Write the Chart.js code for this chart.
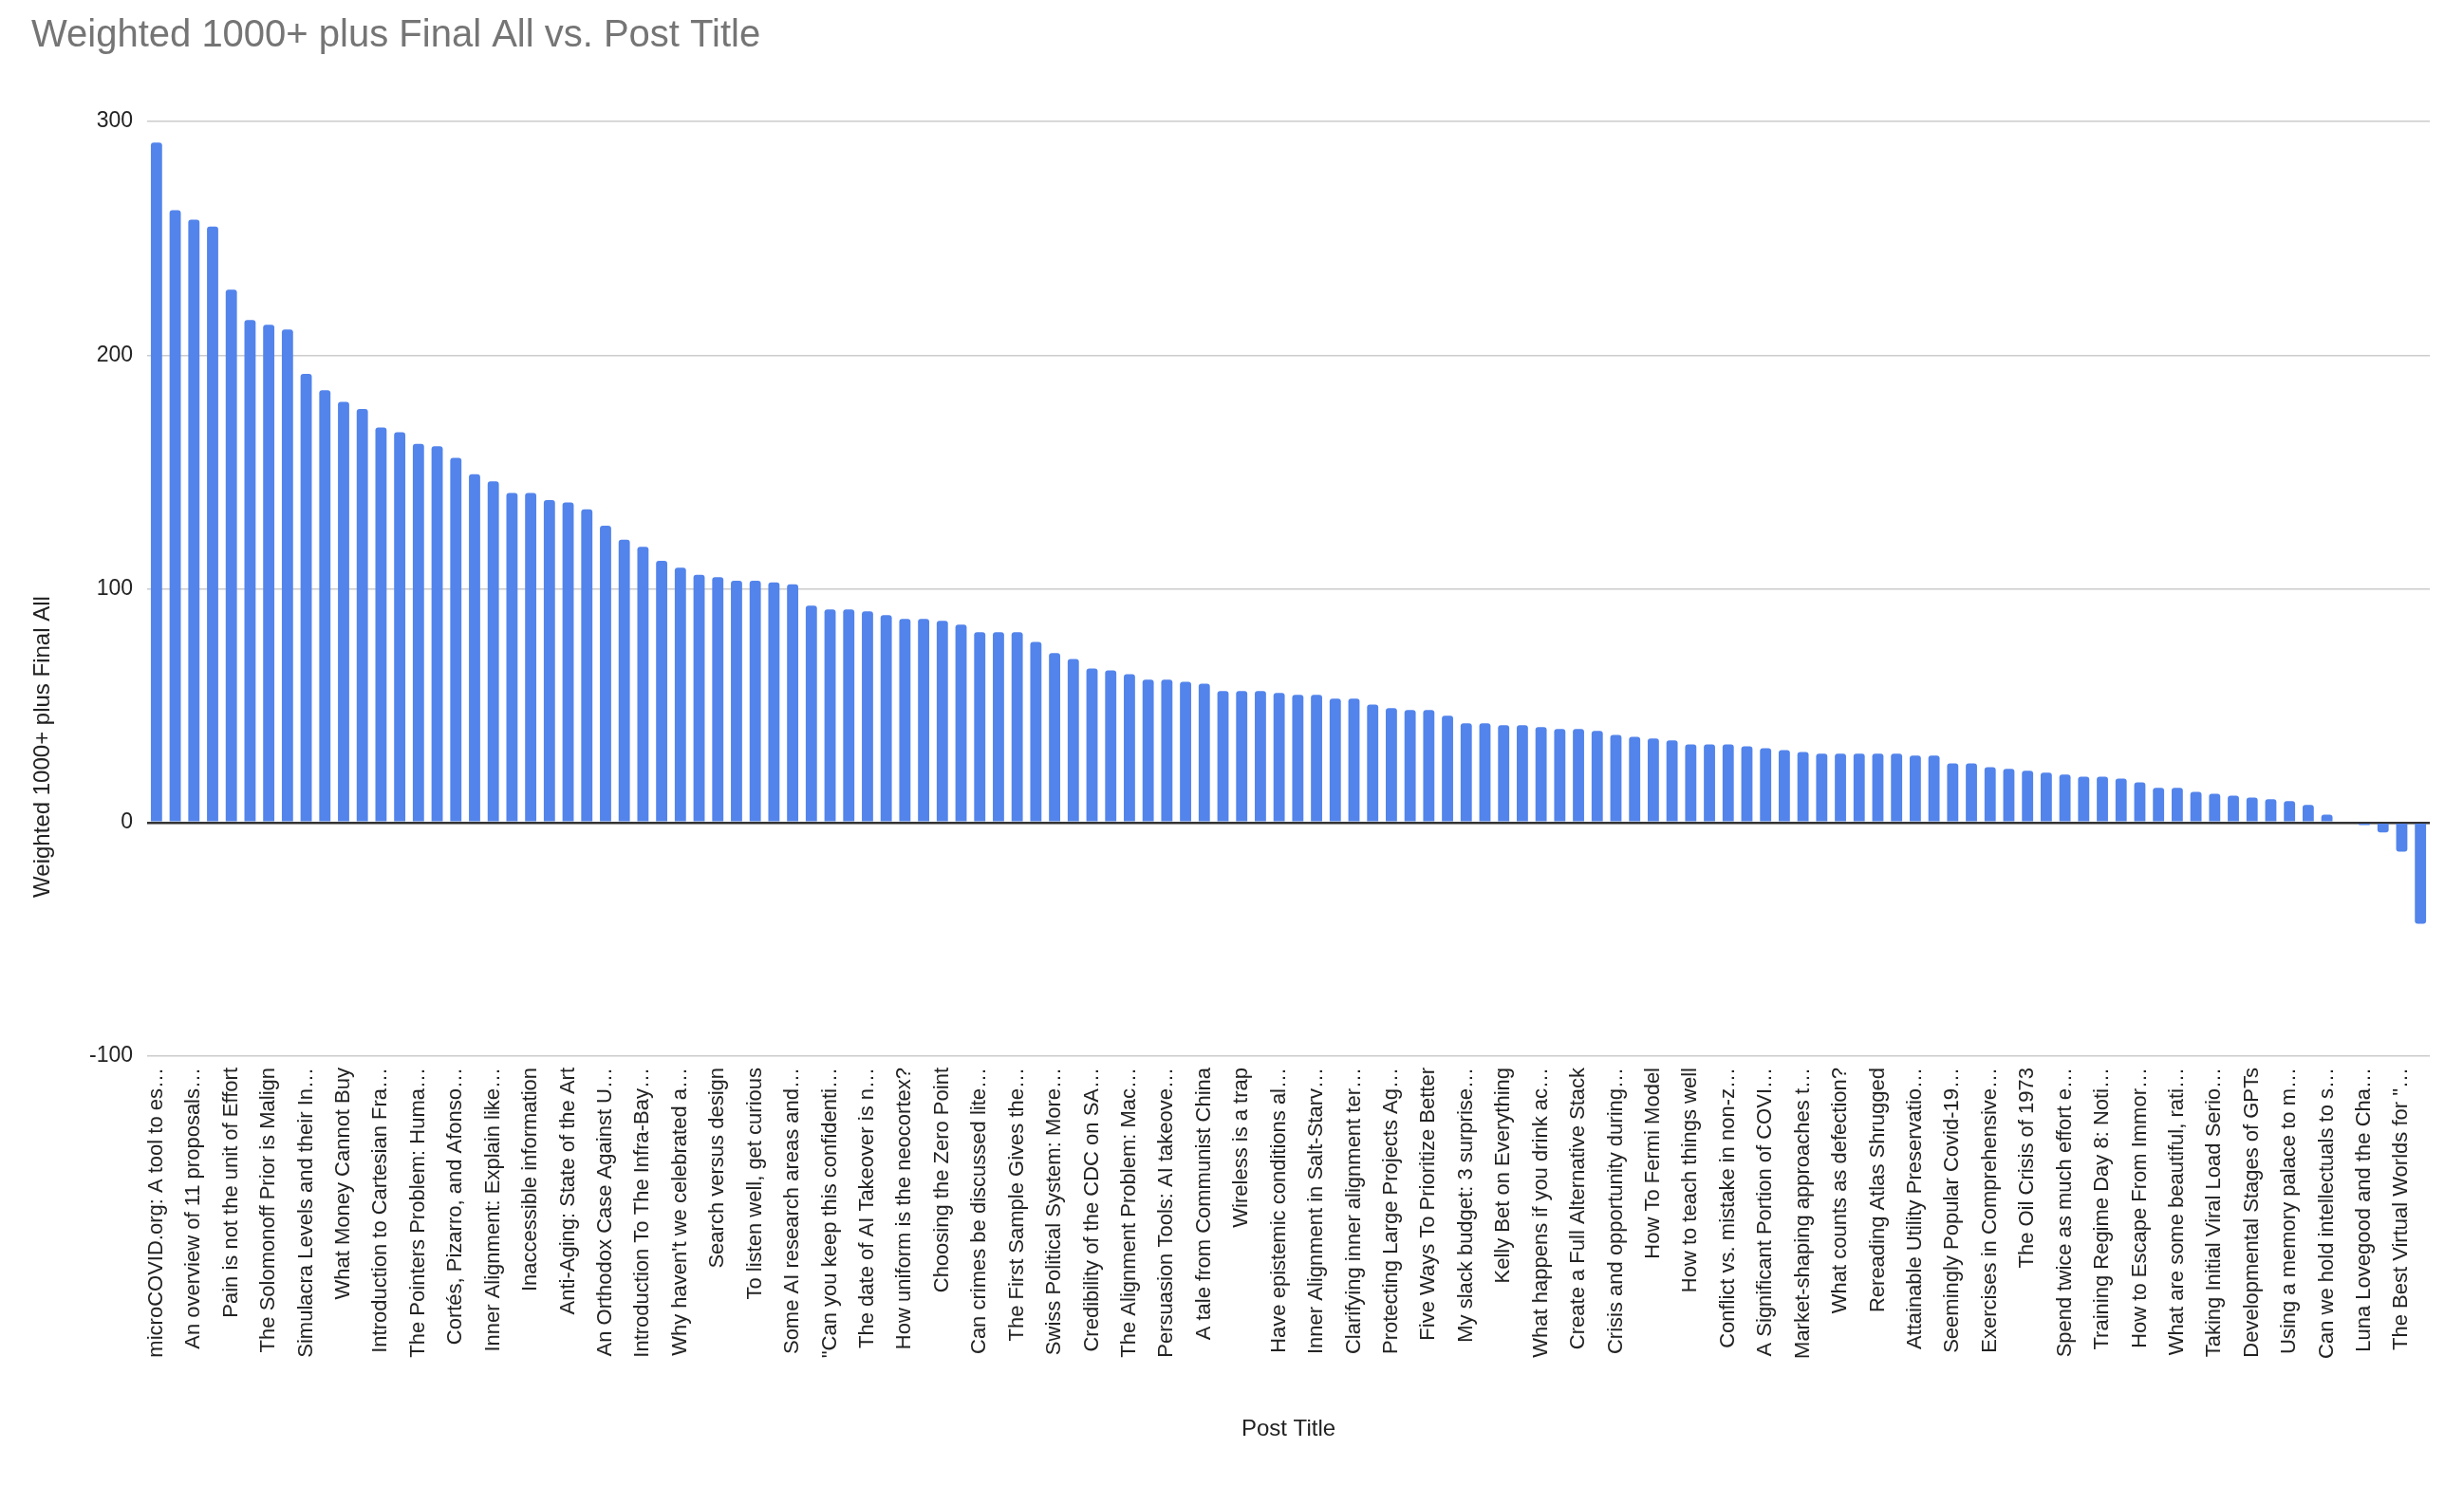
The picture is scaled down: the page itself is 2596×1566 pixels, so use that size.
<!DOCTYPE html>
<html>
<head>
<meta charset="utf-8">
<script src="https://cdn.jsdelivr.net/npm/chart.js@4.4.1/dist/chart.umd.min.js"></script>
<style>
  html, body { margin: 0; padding: 0; background: #ffffff; }
  canvas { display: block; }
</style>
</head>
<body>
<canvas id="c" width="2596" height="1566"></canvas>
<script>
const chartTitle = 'Weighted 1000+ plus Final All vs. Post Title';
const xAxisTitle = 'Post Title';
const yAxisTitle = 'Weighted 1000+ plus Final All';

// Only every other title is visible in the reference; hidden ones are left blank.
const postTitles = [
  'microCOVID.org: A tool to es…', '',
  'An overview of 11 proposals…', '',
  'Pain is not the unit of Effort', '',
  'The Solomonoff Prior is Malign', '',
  'Simulacra Levels and their In…', '',
  'What Money Cannot Buy', '',
  'Introduction to Cartesian Fra…', '',
  'The Pointers Problem: Huma…', '',
  'Cortés, Pizarro, and Afonso…', '',
  'Inner Alignment: Explain like…', '',
  'Inaccessible information', '',
  'Anti-Aging: State of the Art', '',
  'An Orthodox Case Against U…', '',
  'Introduction To The Infra-Bay…', '',
  "Why haven't we celebrated a…", '',
  'Search versus design', '',
  'To listen well, get curious', '',
  'Some AI research areas and…', '',
  '"Can you keep this confidenti…', '',
  'The date of AI Takeover is n…', '',
  'How uniform is the neocortex?', '',
  'Choosing the Zero Point', '',
  'Can crimes be discussed lite…', '',
  'The First Sample Gives the…', '',
  'Swiss Political System: More…', '',
  'Credibility of the CDC on SA…', '',
  'The Alignment Problem: Mac…', '',
  'Persuasion Tools: AI takeove…', '',
  'A tale from Communist China', '',
  'Wireless is a trap', '',
  'Have epistemic conditions al…', '',
  'Inner Alignment in Salt-Starv…', '',
  'Clarifying inner alignment ter…', '',
  'Protecting Large Projects Ag…', '',
  'Five Ways To Prioritize Better', '',
  'My slack budget: 3 surprise…', '',
  'Kelly Bet on Everything', '',
  'What happens if you drink ac…', '',
  'Create a Full Alternative Stack', '',
  'Crisis and opportunity during…', '',
  'How To Fermi Model', '',
  'How to teach things well', '',
  'Conflict vs. mistake in non-z…', '',
  'A Significant Portion of COVI…', '',
  'Market-shaping approaches t…', '',
  'What counts as defection?', '',
  'Rereading Atlas Shrugged', '',
  'Attainable Utility Preservatio…', '',
  'Seemingly Popular Covid-19…', '',
  'Exercises in Comprehensive…', '',
  'The Oil Crisis of 1973', '',
  'Spend twice as much effort e…', '',
  'Training Regime Day 8: Noti…', '',
  'How to Escape From Immor…', '',
  'What are some beautiful, rati…', '',
  'Taking Initial Viral Load Serio…', '',
  'Developmental Stages of GPTs', '',
  'Using a memory palace to m…', '',
  'Can we hold intellectuals to s…', '',
  'Luna Lovegood and the Cha…', '',
  'The Best Virtual Worlds for "…', ''
];

const scores = [
  291, 262, 258, 255, 228, 215, 213, 211, 192, 185,
  180, 177, 169, 167, 162, 161, 156, 149, 146, 141,
  141, 138, 137, 134, 127, 121, 118, 112, 109, 106,
  105, 103.5, 103.5, 102.7, 101.9, 92.8, 91.2, 91.2, 90.4, 88.7,
  87.1, 87.1, 86.3, 84.7, 81.4, 81.4, 81.4, 77.3, 72.5, 70.0,
  65.9, 65.1, 63.5, 61.1, 61.1, 60.2, 59.4, 56.2, 56.2, 56.2,
  55.4, 54.6, 54.6, 53.0, 53.0, 50.5, 48.9, 48.1, 48.1, 45.7,
  42.4, 42.4, 41.6, 41.6, 40.8, 40.0, 40.0, 39.2, 37.5, 36.7,
  35.9, 35.1, 33.4, 33.4, 33.4, 32.6, 31.8, 31.0, 30.2, 29.4,
  29.4, 29.4, 29.4, 29.4, 28.6, 28.6, 25.3, 25.3, 23.7, 22.9,
  22.1, 21.3, 20.5, 19.6, 19.6, 18.8, 17.2, 14.8, 14.8, 13.1,
  12.3, 11.5, 10.7, 9.9, 9.1, 7.5, 3.4, 0, -1.1, -4.3,
  -12.5, -43.4
];

const yTicks = [-100, 0, 100, 200, 300];

const FONT = '"Liberation Sans", Arial, Helvetica, sans-serif';

const yTitlePlugin = {
  id: 'yTitlePlugin',
  afterDraw(chart) {
    const ctx = chart.ctx;
    ctx.save();
    ctx.translate(45, 787);
    ctx.rotate(-Math.PI / 2);
    ctx.textAlign = 'center';
    ctx.textBaseline = 'middle';
    ctx.fillStyle = '#222222';
    ctx.font = '24px ' + FONT;
    ctx.fillText(yAxisTitle, 0, 0);
    ctx.restore();
  }
};

new Chart(document.getElementById('c'), {
  type: 'bar',
  data: {
    labels: postTitles,
    datasets: [{
      label: yAxisTitle,
      data: scores,
      backgroundColor: '#5384eb',
      borderWidth: 0,
      borderRadius: 3,
      barPercentage: 0.6,
      categoryPercentage: 1.0
    }]
  },
  options: {
    responsive: false,
    animation: false,
    devicePixelRatio: 1,
    layout: { padding: { left: 33, right: 36, top: 0, bottom: 0 } },
    plugins: {
      legend: { display: false },
      tooltip: { enabled: false },
      title: {
        display: true,
        text: chartTitle,
        align: 'start',
        color: '#757575',
        font: { family: FONT, size: 40, weight: 'normal' },
        padding: { top: 14, bottom: 66 }
      }
    },
    scales: {
      x: {
        afterFit(scale) { scale.height = 453; },
        grid: { display: false, drawTicks: false },
        border: { display: false },
        ticks: {
          autoSkip: false,
          minRotation: 90,
          maxRotation: 90,
          padding: 12,
          color: '#222222',
          font: { family: FONT, size: 22 }
        },
        title: {
          display: true,
          text: xAxisTitle,
          color: '#222222',
          font: { family: FONT, size: 24 },
          padding: { top: 0, bottom: 45 }
        }
      },
      y: {
        min: yTicks[0],
        max: yTicks[yTicks.length - 1],
        afterFit(scale) { scale.width = 122; },
        afterBuildTicks(scale) { scale.ticks = yTicks.map(v => ({ value: v })); },
        border: { display: false },
        grid: {
          drawTicks: false,
          color: ctx => (ctx.tick && ctx.tick.value === 0) ? '#333333' : '#cccccc',
          lineWidth: ctx => (ctx.tick && ctx.tick.value === 0) ? 2.5 : 1.5
        },
        ticks: {
          padding: 15,
          color: '#222222',
          font: { family: FONT, size: 23 }
        }
      }
    }
  },
  plugins: [yTitlePlugin]
});
</script>
</body>
</html>
